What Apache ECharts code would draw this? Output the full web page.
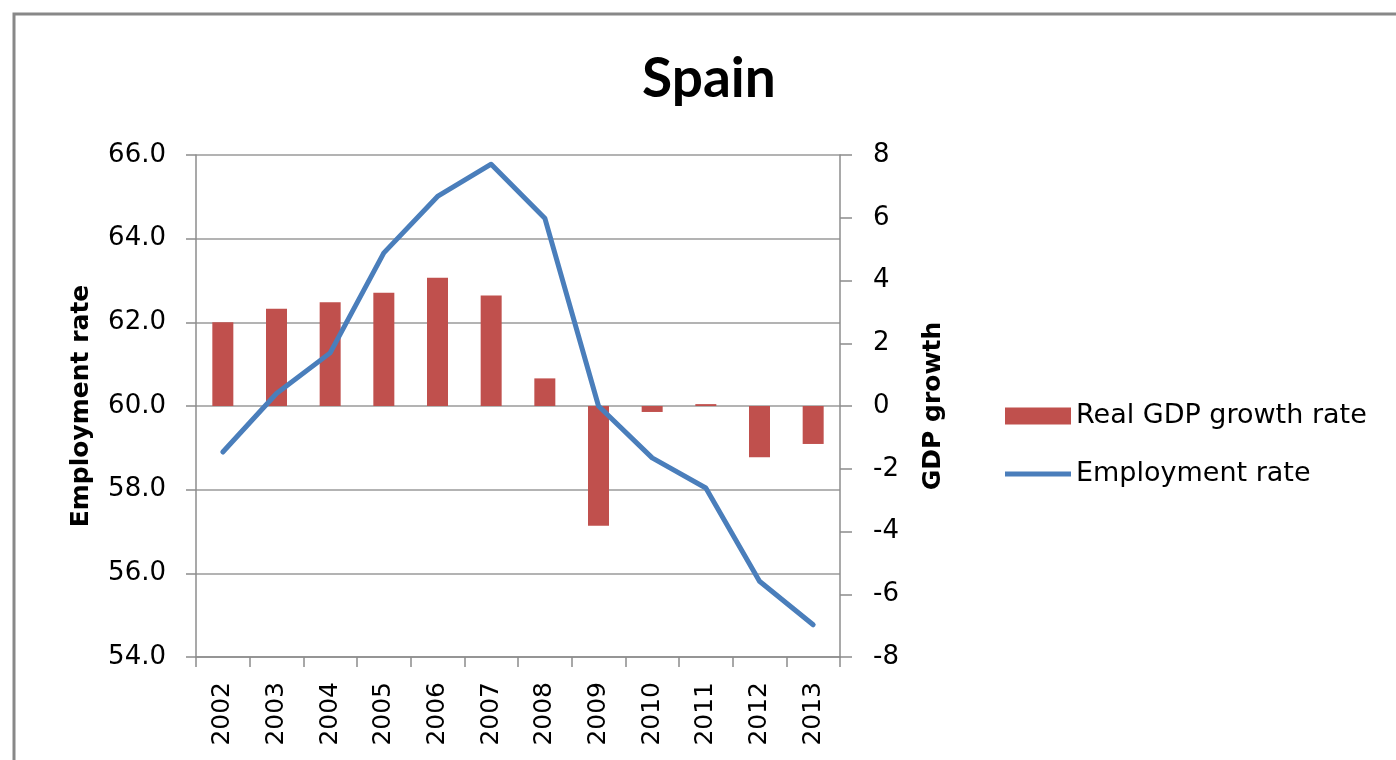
<!DOCTYPE html>
<html>
<head>
<meta charset="utf-8">
<script src="https://cdn.jsdelivr.net/npm/echarts@6/dist/echarts.min.js"></script>
<style>
html,body{margin:0;padding:0;background:#fff;}
#chart{width:1396px;height:760px;}
</style>
</head>
<body>
<div id="chart"></div>
<script>
const years = ['2002','2003','2004','2005','2006','2007','2008','2009','2010','2011','2012','2013'];
const gdpGrowth = [2.67, 3.10, 3.31, 3.61, 4.09, 3.52, 0.88, -3.82, -0.19, 0.06, -1.63, -1.21];
const employmentRate = [58.9, 60.3, 61.27, 63.66, 65.01, 65.78, 64.49, 60.0, 58.76, 58.04, 55.81, 54.77];

const FONT = 'DejaVu Sans';
const chart = echarts.init(document.getElementById('chart'), null, {renderer: 'canvas'});
chart.setOption({
  animation: false,
  backgroundColor: '#fff',
  title: {
    text: 'Spain',
    left: 637,
    top: 43,
    textStyle: {fontFamily: 'Lato', fontWeight: 'bold', fontSize: 55, color: '#000', lineHeight: 62}
  },
  graphic: [{
    type: 'rect',
    shape: {x: 14, y: 14, width: 1500, height: 900},
    style: {fill: 'none', stroke: '#888', lineWidth: 3},
    silent: true
  }],
  legend: {
    orient: 'vertical',
    left: 1000,
    top: 396,
    itemWidth: 66,
    itemHeight: 17,
    itemGap: 28,
    textStyle: {fontFamily: FONT, fontSize: 27, color: '#000', lineHeight: 30},
    data: [
      {name: 'Real GDP growth rate', icon: 'rect'},
      {name: 'Employment rate', icon: 'path://M0,0h132v10h-132z', itemStyle: {color: '#4a7ebb'}}
    ]
  },
  grid: {left: 196, right: 556, top: 155, bottom: 103, containLabel: false},
  xAxis: {
    type: 'category',
    data: years,
    boundaryGap: true,
    axisLine: {onZero: false, lineStyle: {color: '#8c8c8c', width: 1.5}},
    axisTick: {show: true, interval: 0, length: 10, lineStyle: {color: '#8c8c8c', width: 1.5}},
    axisLabel: {interval: 0, rotate: 90, margin: 25, fontFamily: FONT, fontSize: 25, color: '#000'}
  },
  yAxis: [{
    type: 'value',
    min: 54, max: 66, interval: 2,
    position: 'left',
    name: 'Employment rate',
    nameLocation: 'middle',
    nameRotate: 90,
    nameGap: 102,
    nameTextStyle: {fontFamily: FONT, fontWeight: 'bold', fontSize: 25, color: '#000'},
    axisLine: {show: true, lineStyle: {color: '#8c8c8c', width: 1.5}},
    axisTick: {show: true, length: 10, lineStyle: {color: '#8c8c8c', width: 1.5}},
    axisLabel: {margin: 30, fontFamily: FONT, fontSize: 26, color: '#000', formatter: v => v.toFixed(1)},
    splitLine: {show: true, lineStyle: {color: '#9a9a9a', width: 1.5}}
  }, {
    type: 'value',
    min: -8, max: 8, interval: 2,
    position: 'right',
    name: 'GDP growth',
    nameLocation: 'middle',
    nameRotate: 90,
    nameGap: 81,
    nameTextStyle: {fontFamily: FONT, fontWeight: 'bold', fontSize: 25, color: '#000'},
    axisLine: {show: true, lineStyle: {color: '#8c8c8c', width: 1.5}},
    axisTick: {show: true, length: 12, lineStyle: {color: '#8c8c8c', width: 1.5}},
    axisLabel: {margin: 33, fontFamily: FONT, fontSize: 26, color: '#000'},
    splitLine: {show: false}
  }],
  series: [{
    name: 'Real GDP growth rate',
    type: 'bar',
    yAxisIndex: 1,
    data: gdpGrowth,
    barWidth: 21,
    itemStyle: {color: '#c0504d'},
    z: 2
  }, {
    name: 'Employment rate',
    type: 'line',
    yAxisIndex: 0,
    data: employmentRate,
    symbol: 'none',
    lineStyle: {color: '#4a7ebb', width: 5, cap: 'round', join: 'round'},
    itemStyle: {color: '#4a7ebb'},
    z: 3
  }]
});
</script>
</body>
</html>
